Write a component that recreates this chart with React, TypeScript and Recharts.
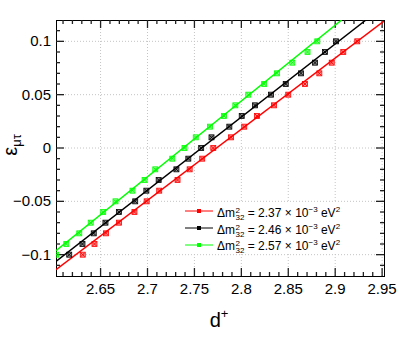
import React from 'react';
import { ComposedChart, Scatter, Line, XAxis, YAxis, CartesianGrid, Legend, Label, ReferenceArea, ReferenceLine } from 'recharts';

// ---------- data ----------
const epsValues = [-0.1, -0.09, -0.08, -0.07, -0.06, -0.05, -0.04, -0.03, -0.02, -0.01, 0, 0.01, 0.02, 0.03, 0.04, 0.05, 0.06, 0.07, 0.08, 0.09, 0.1];
const dRed = [2.631, 2.6435, 2.6558, 2.6696, 2.6861, 2.6991, 2.7125, 2.732, 2.7449, 2.7583, 2.7701, 2.789, 2.8031, 2.8167, 2.8348, 2.85, 2.8678, 2.8831, 2.8963, 2.9086, 2.9235];
const dBlack = [2.6166, 2.6307, 2.6427, 2.6552, 2.6695, 2.6869, 2.6988, 2.7119, 2.7308, 2.7435, 2.7572, 2.7682, 2.7872, 2.8004, 2.8145, 2.8316, 2.8473, 2.8636, 2.8785, 2.8891, 2.9008];
const dGreen = [2.6028, 2.6135, 2.6273, 2.6395, 2.6528, 2.6659, 2.684, 2.6969, 2.7083, 2.7264, 2.7394, 2.7514, 2.7666, 2.7815, 2.7936, 2.8074, 2.8243, 2.838, 2.8543, 2.8705, 2.8809];

// linear fits: endpoints (d, eps)
const fitRedD = [2.6025, 2.952];
const fitRedE = [-0.114, 0.119];
const fitBlackD = [2.6025, 2.9328];
const fitBlackE = [-0.1064, 0.12];
const fitGreenD = [2.6025, 2.9069];
const fitGreenE = [-0.0963, 0.12];

const seriesValues = ['2.37', '2.46', '2.57'];
const seriesColors = ['#ff0000', '#000000', '#00ff00'];

const xDomain = [2.6025, 2.952];
const yDomain = [-0.12, 0.12];
const xMajorTicks = [2.65, 2.7, 2.75, 2.8, 2.85, 2.9, 2.95];
const xTickLabels = ['2.65', '2.7', '2.75', '2.8', '2.85', '2.9', '2.95'];
const xMinorTicks = [2.61, 2.62, 2.63, 2.64, 2.65, 2.66, 2.67, 2.68, 2.69, 2.7, 2.71, 2.72, 2.73, 2.74, 2.75, 2.76, 2.77, 2.78, 2.79, 2.8, 2.81, 2.82, 2.83, 2.84, 2.85, 2.86, 2.87, 2.88, 2.89, 2.9, 2.91, 2.92, 2.93, 2.94, 2.95];
const yMajorTicks = [-0.1, -0.05, 0, 0.05, 0.1];
const yTickLabels = ['\u22120.1', '\u22120.05', '0', '0.05', '0.1'];
const yMinorTicks = [-0.11, -0.1, -0.09, -0.08, -0.07, -0.06, -0.05, -0.04, -0.03, -0.02, -0.01, 0, 0.01, 0.02, 0.03, 0.04, 0.05, 0.06, 0.07, 0.08, 0.09, 0.1, 0.11];

// ---------- layout ----------
const CHART_W = 399;
const CHART_H = 337;
const MARGIN = { top: 19, right: 14, bottom: 0, left: 0 };
const TOP_AXIS_H = 1;
const BOTTOM_AXIS_H = 61;
const LEFT_AXIS_W = 56;
const RIGHT_AXIS_W = 1;
const PLOT_H = CHART_H - MARGIN.top - MARGIN.bottom - TOP_AXIS_H - BOTTOM_AXIS_H;
const PLOT_W = CHART_W - MARGIN.left - MARGIN.right - LEFT_AXIS_W - RIGHT_AXIS_W;
const Y_PER_PX = (yDomain[1] - yDomain[0]) / PLOT_H;
const X_PER_PX = (xDomain[1] - xDomain[0]) / PLOT_W;
const MAJOR_LEN = 8;
const MINOR_LEN = 4;

// ---------- derived ----------
const toPoints = (ds: number[]) => ds.map((d, i) => ({ d, e: epsValues[i] }));
const toFit = (ds: number[], es: number[]) => ds.map((d, i) => ({ d, e: es[i] }));
const pointSets = [toPoints(dRed), toPoints(dBlack), toPoints(dGreen)];
const fitSets = [toFit(fitRedD, fitRedE), toFit(fitBlackD, fitBlackE), toFit(fitGreenD, fitGreenE)];

const FONT = '"Liberation Sans", Arial, Helvetica, sans-serif';
const majorIndex = (v: number, majors: number[]) => majors.findIndex((m) => Math.abs(m - v) < 1e-6);

// inward tick segments (in data units) for all four sides
const xTickSegments = xMinorTicks.flatMap((v) => {
  const len = (majorIndex(v, xMajorTicks) >= 0 ? MAJOR_LEN : MINOR_LEN) * Y_PER_PX;
  return [
    [{ x: v, y: yDomain[0] }, { x: v, y: yDomain[0] + len }],
    [{ x: v, y: yDomain[1] }, { x: v, y: yDomain[1] - len }],
  ];
});
const yTickSegments = yMinorTicks.flatMap((v) => {
  const len = (majorIndex(v, yMajorTicks) >= 0 ? MAJOR_LEN : MINOR_LEN) * X_PER_PX;
  return [
    [{ x: xDomain[0], y: v }, { x: xDomain[0] + len, y: v }],
    [{ x: xDomain[1], y: v }, { x: xDomain[1] - len, y: v }],
  ];
});
const tickSegments = [...xTickSegments, ...yTickSegments];

const BottomTick = (props: any) => {
  const { x, y, payload } = props;
  const idx = majorIndex(payload.value, xMajorTicks);
  return (
    <text x={x} y={y + 18} textAnchor="middle" fontSize={15} fontFamily={FONT} fill="#000">
      {idx >= 0 ? xTickLabels[idx] : ''}
    </text>
  );
};

const LeftTick = (props: any) => {
  const { x, y, payload } = props;
  const idx = majorIndex(payload.value, yMajorTicks);
  return (
    <text x={x - 5} y={y + 5} textAnchor="end" fontSize={15} fontFamily={FONT} fill="#000">
      {idx >= 0 ? yTickLabels[idx] : ''}
    </text>
  );
};

const makeMarker = (color: string) => (props: any) => {
  const { cx, cy } = props;
  if (cx == null || cy == null) return <g />;
  return (
    <g>
      <rect x={cx - 2.5} y={cy - 2.5} width={5} height={5} fill={color} fillOpacity={0.45} stroke={color} strokeWidth={0.8} />
      <line x1={cx - 2} y1={cy - 2} x2={cx + 2} y2={cy + 2} stroke={color} strokeWidth={0.9} />
      <line x1={cx - 2} y1={cy + 2} x2={cx + 2} y2={cy - 2} stroke={color} strokeWidth={0.9} />
    </g>
  );
};

const LegendContent = () => (
  <div style={{ background: '#fff', fontFamily: FONT, fontSize: 12, color: '#000' }}>
    {seriesValues.map((v, i) => (
      <div key={v} style={{ display: 'flex', alignItems: 'center', height: 16.7, whiteSpace: 'nowrap' }}>
        <svg width={38} height={16} style={{ flex: 'none' }}>
          <line x1={7} x2={35} y1={8} y2={8} stroke={seriesColors[i]} strokeWidth={1} />
          <rect x={19} y={6} width={4} height={4} fill={seriesColors[i]} />
        </svg>
        <span style={{ lineHeight: '16px', marginLeft: 1 }}>
          Δm
          <span style={{ display: 'inline-block', fontSize: 8, lineHeight: '7px', verticalAlign: -3, marginLeft: 0.5 }}>
            <span style={{ display: 'block' }}>2</span>
            <span style={{ display: 'block' }}>32</span>
          </span>
          {` = ${v} × 10`}
          <span style={{ fontSize: 8, verticalAlign: 5 }}>−3</span>
          {' eV'}
          <span style={{ fontSize: 8, verticalAlign: 5 }}>2</span>
        </span>
      </div>
    ))}
  </div>
);

export default function App() {
  return (
    <div style={{ position: 'absolute', left: 0, top: 0, width: CHART_W, height: CHART_H, background: '#fff' }}>
      <ComposedChart width={CHART_W} height={CHART_H} margin={MARGIN}>
        <CartesianGrid
          xAxisId="b"
          yAxisId="l"
          verticalValues={xMajorTicks}
          horizontalValues={yMajorTicks}
          stroke="#c4c4c4"
          strokeDasharray="1 2"
          strokeWidth={1}
        />
        <XAxis
          xAxisId="b"
          dataKey="d"
          type="number"
          orientation="bottom"
          domain={xDomain}
          allowDataOverflow
          ticks={xMajorTicks}
          interval={0}
          tickSize={0}
          tickMargin={0}
          tickLine={false}
          tick={BottomTick}
          height={BOTTOM_AXIS_H}
          axisLine={false}
        >
          <Label
            content={(p: any) => {
              const vb = p.viewBox || { x: 56, width: 328, y: 276 };
              return (
                <text x={vb.x + vb.width / 2 - 1} y={vb.y + 51} textAnchor="middle" fontFamily={FONT} fill="#000">
                  <tspan fontSize={20}>d</tspan>
                  <tspan fontSize={13} dy={-9}>+</tspan>
                </text>
              );
            }}
          />
        </XAxis>
        <XAxis
          xAxisId="t"
          dataKey="d"
          type="number"
          orientation="top"
          domain={xDomain}
          allowDataOverflow
          tick={false}
          tickLine={false}
          height={TOP_AXIS_H}
          axisLine={false}
        />
        <YAxis
          yAxisId="l"
          dataKey="e"
          type="number"
          orientation="left"
          domain={yDomain}
          allowDataOverflow
          ticks={yMajorTicks}
          interval={0}
          tickSize={0}
          tickMargin={0}
          tickLine={false}
          tick={LeftTick}
          width={LEFT_AXIS_W}
          axisLine={false}
        >
          <Label
            content={(p: any) => {
              const vb = p.viewBox || { x: 0, y: 20, height: 256 };
              const cy = vb.y + vb.height / 2 - 3;
              return (
                <text transform={`translate(17,${cy}) rotate(-90)`} textAnchor="middle" fontFamily={FONT} fill="#000">
                  <tspan fontSize={20}>ε</tspan>
                  <tspan fontSize={13} dy={4}>μτ</tspan>
                </text>
              );
            }}
          />
        </YAxis>
        <YAxis
          yAxisId="r"
          dataKey="e"
          type="number"
          orientation="right"
          domain={yDomain}
          allowDataOverflow
          tick={false}
          tickLine={false}
          width={RIGHT_AXIS_W}
          axisLine={false}
        />
        {tickSegments.map((seg, i) => (
          <ReferenceLine
            key={`tick${i}`}
            xAxisId="b"
            yAxisId="l"
            segment={seg}
            stroke="#222"
            strokeWidth={1.3}
            ifOverflow="visible"
          />
        ))}
        <ReferenceArea
          xAxisId="b"
          yAxisId="l"
          x1={xDomain[0]}
          x2={xDomain[1]}
          y1={yDomain[0]}
          y2={yDomain[1]}
          fill="none"
          fillOpacity={0}
          stroke="#000"
          strokeWidth={1}
          shapeRendering="crispEdges"
          ifOverflow="visible"
        />
        {fitSets.map((fs, i) => (
          <Line
            key={`fit${i}`}
            xAxisId="t"
            yAxisId="r"
            data={fs}
            dataKey="e"
            type="linear"
            stroke={seriesColors[i]}
            strokeWidth={1.5}
            dot={false}
            activeDot={false}
            isAnimationActive={false}
            legendType="none"
          />
        ))}
        {pointSets.map((ps, i) => (
          <Scatter
            key={`pts${i}`}
            xAxisId="b"
            yAxisId="l"
            data={ps}
            fill={seriesColors[i]}
            shape={makeMarker(seriesColors[i])}
            isAnimationActive={false}
          />
        ))}
        <Legend
          layout="vertical"
          align="center"
          verticalAlign="middle"
          content={LegendContent}
          wrapperStyle={{ left: 178, top: 203, width: 163, height: 50, background: '#fff' }}
        />
      </ComposedChart>
    </div>
  );
}
